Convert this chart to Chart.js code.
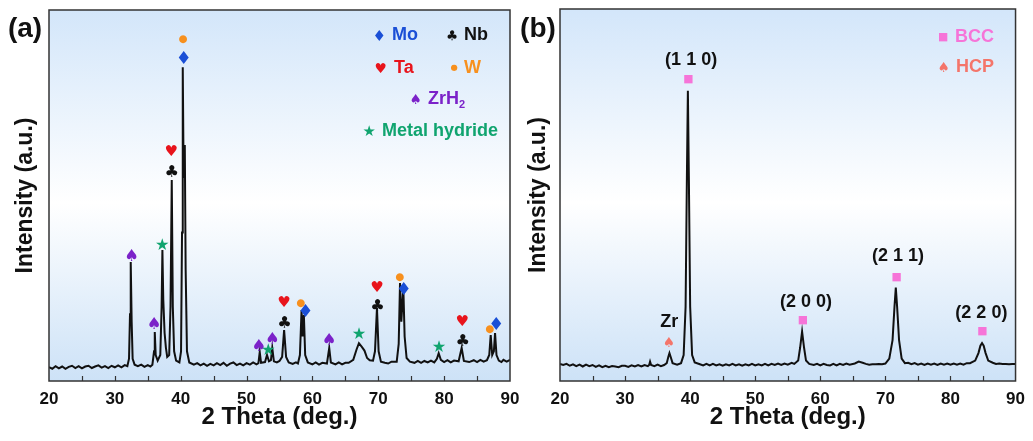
<!DOCTYPE html>
<html>
<head>
<meta charset="utf-8">
<script src="https://cdn.jsdelivr.net/npm/chart.js@4.4.1/dist/chart.umd.min.js"></script>
<style>
html, body { margin: 0; padding: 0; background: #fff; }
body { width: 1033px; height: 441px; position: relative; overflow: hidden; }
#chartA { position: absolute; left: 0; top: 0; }
#chartB { position: absolute; left: 513px; top: 0; }
</style>
</head>
<body>
<canvas id="chartA" width="530" height="441"></canvas>
<canvas id="chartB" width="520" height="441"></canvas>
<script>
/* ------------------------------------------------------------
   Data (intensity in arbitrary units 0-100)
------------------------------------------------------------ */
const thetaA = [20, 20.5, 21, 21.5, 22, 22.5, 23, 23.5, 24, 24.5, 25, 25.5, 26, 26.5, 27, 27.5, 28, 28.5, 29, 29.5, 30, 30.5, 31, 31.5,
    31.9, 32.15, 32.3, 32.41, 32.55, 32.7, 33.0, 33.5, 34, 34.5, 35, 35.4, 35.7, 35.95, 36.06, 36.2, 36.5, 36.9, 37.1, 37.22, 37.35, 37.55, 37.75, 37.95,
    38.25, 38.45, 38.64, 38.8, 39.0, 39.3, 39.8, 40.05, 40.2, 40.31, 40.42, 40.5, 40.62, 40.75, 40.95, 41.3, 42, 42.5, 43, 43.5, 44, 44.5, 45, 45.5,
    46, 46.5, 47, 47.5, 48, 48.5, 49, 49.5, 50, 50.5, 51, 51.5, 51.8, 52.0, 52.2, 52.8, 53.1, 53.4, 53.7, 53.9, 54.15, 54.6, 55.0, 55.4, 55.7, 56.0,
    56.4, 57, 57.5, 57.8, 58.1, 58.35, 58.5, 58.7, 58.9, 59.3, 60, 60.5, 61, 61.5, 62.2, 62.55, 62.8, 63.5, 64, 64.5, 65, 65.5, 66.2, 66.7, 67.06,
    67.5, 67.9, 68.3, 68.7, 69.2, 69.5, 69.8, 70.05, 70.4, 71, 71.5, 72, 72.8, 73.1, 73.3, 73.5, 73.8, 74.0, 74.3, 74.8, 75.5, 76, 76.5, 77, 77.5,
    78, 78.5, 78.9, 79.17, 79.5, 80, 80.5, 81, 81.5, 82.2, 82.66, 83.0, 83.8, 84.5, 85, 85.5, 86, 86.5, 86.85, 87.07, 87.3, 87.55, 87.73, 87.95,
    88.3, 88.7, 89, 89.5, 90];
const intensityA = [3.7, 3.3, 4.0, 3.4, 3.9, 3.3, 3.8, 4.1, 3.5, 4.0, 3.4, 3.9, 4.1, 3.5, 3.9, 4.2, 3.6, 4.0, 3.5, 4.1, 3.7, 4.2, 3.7, 4.3,
    4.0, 6.0, 18, 32.1, 16, 6.0, 4.4, 4.0, 4.4, 3.8, 4.3, 3.9, 4.4, 8.0, 13.2, 7.0, 5.5, 7.0, 20, 35.3, 22, 13, 9.0, 6.5,
    7.0, 20, 54.2, 20, 8.0, 5.5, 5.0, 8.0, 40, 84.6, 60, 55, 63.6, 30, 8.0, 5.0, 4.4, 4.8, 4.2, 4.7, 4.1, 4.6, 4.2, 4.8,
    4.3, 4.9, 4.1, 4.7, 5.0, 4.3, 4.7, 4.2, 4.8, 4.4, 5.0, 4.5, 4.8, 7.8, 4.9, 5.1, 7.0, 5.3, 5.6, 8.9, 5.3, 5.0, 5.4, 6.5, 13.7, 6.5,
    5.0, 4.6, 5.0, 4.7, 7.0, 19.1, 12, 17.8, 7.0, 5.0, 4.5, 5.0, 4.4, 4.9, 4.7, 8.9, 5.0, 4.5, 5.0, 4.5, 4.9, 4.9, 5.7, 8.5, 10.2,
    9.2, 8.2, 6.2, 5.6, 5.5, 8.0, 19.7, 8.0, 5.2, 4.9, 4.7, 5.2, 5.2, 10, 26.4, 16, 25.3, 12, 6.2, 5.2, 4.9, 5.4, 4.9, 5.4, 5.0,
    5.5, 5.0, 6.0, 7.5, 5.7, 5.1, 5.6, 5.0, 5.5, 5.3, 8.9, 5.4, 5.1, 5.6, 5.1, 5.7, 5.2, 5.6, 7.0, 12.4, 7.0, 8.0, 12.9, 7.0,
    5.5, 5.1, 5.7, 5.2, 5.7];

const thetaB = [20, 20.5, 21, 21.5, 22, 22.5, 23, 23.5, 24, 24.5, 25, 25.5, 26, 26.5, 27, 27.5, 28, 28.5, 29, 29.5, 30, 30.5, 31, 31.5, 32, 32.5,
    33, 33.5, 33.7, 33.84, 34.0, 34.5, 35, 35.5, 36, 36.4, 36.65, 36.82, 37.0, 37.3, 38, 38.6, 39.0, 39.3, 39.5, 39.65, 39.8, 40.0, 40.3, 40.7,
    41.5, 42, 42.5, 43, 43.5, 44, 44.5, 45, 45.5, 46, 46.5, 47, 47.5, 48, 48.5, 49, 49.5, 50, 50.5, 51, 51.5, 52, 52.5, 53, 53.5, 54, 54.5, 55,
    55.6, 56, 56.6, 56.9, 57.2, 57.5, 57.8, 58.3, 59, 59.5, 60, 60.5, 61, 61.5, 62, 62.5, 63, 63.5, 64, 64.5, 65.3, 65.9, 66.5, 67, 67.5, 68, 68.5,
    69, 69.5, 70, 70.6, 71.1, 71.4, 71.6, 71.8, 72.1, 72.5, 73, 73.5, 74, 74.5, 75, 75.5, 76, 76.5, 77, 77.5, 78, 78.5, 79, 79.5, 80, 80.5, 81,
    81.5, 82, 82.5, 83, 83.8, 84.3, 84.6, 84.85, 85.1, 85.4, 85.8, 86.5, 87, 87.5, 88, 88.5, 89, 89.5, 90];
const intensityB = [4.6, 4.3, 4.6, 4.1, 4.5, 4.0, 4.4, 3.9, 4.4, 4.0, 4.3, 3.8, 4.2, 3.7, 4.1, 3.7, 4.0, 3.9, 3.7, 4.1, 4.1, 3.8, 4.2, 3.9, 4.3, 3.9,
    4.3, 4.0, 4.3, 5.2, 4.3, 4.0, 4.4, 4.0, 4.3, 4.8, 6.5, 7.5, 6.5, 4.8, 4.4, 4.8, 7.0, 20, 55, 78, 55, 20, 7.0, 5.0,
    4.5, 4.2, 4.6, 4.2, 4.6, 4.2, 4.5, 4.1, 4.5, 4.2, 4.6, 4.2, 4.5, 4.1, 4.5, 4.2, 4.6, 4.2, 4.5, 4.2, 4.6, 4.2, 4.6, 4.3, 4.7, 4.3, 4.7, 4.4,
    4.9, 4.6, 5.5, 9.0, 13.3, 9.0, 5.5, 4.6, 4.3, 4.6, 4.2, 4.6, 4.3, 4.2, 4.6, 4.2, 4.6, 4.3, 4.7, 4.4, 4.7, 5.2, 4.9, 4.6, 4.4, 4.5, 4.5,
    4.6, 4.5, 4.7, 6.0, 11, 20, 25.1, 20, 11, 6.0, 4.8, 4.9, 4.5, 4.8, 4.4, 4.7, 4.3, 4.7, 4.4, 4.7, 4.3, 4.7, 4.4, 4.7, 4.4, 4.7, 4.4,
    4.7, 4.4, 4.8, 4.8, 5.5, 7.5, 9.5, 10.2, 9.5, 7.5, 5.5, 4.9, 4.6, 4.7, 4.6, 4.6, 4.5, 4.6, 4.6];

// phase markers of pattern (a)
const moTheta = [40.4, 58.86, 73.8, 87.83];
const moHeight = [87.2, 18.9, 24.8, 15.6];
const nbTheta = [38.59, 55.71, 69.85, 82.77];
const nbHeight = [56.6, 15.9, 20.5, 11.1];
const taTheta = [38.59, 55.71, 69.85, 82.77];
const taHeight = [62.1, 21.3, 25.6, 16.4];
const wTheta = [40.4, 58.25, 73.29, 86.97];
const wHeight = [92.1, 21.0, 28.0, 14.0];
const zrh2Theta = [32.56, 36.0, 51.9, 53.94, 62.55];
const zrh2Height = [34.0, 15.6, 9.7, 11.6, 11.3];
const hydrideTheta = [37.22, 53.33, 67.11, 79.27];
const hydrideHeight = [36.7, 8.6, 12.7, 9.4];

// phase markers and reflections of pattern (b)
const bccTheta = [39.7, 57.3, 71.7, 84.9];
const bccHeight = [81.1, 16.2, 27.8, 13.2];
const hklLabels = ["(1 1 0)", "(2 0 0)", "(2 1 1)", "(2 2 0)"];
const hklTheta = [40.15, 57.8, 71.95, 84.75];
const hklHeight = [86.3, 21.3, 33.7, 18.3];
const hcpTheta = [36.8];
const hcpHeight = [10.6];
const zrLabelHeight = [15.9];

const xTicks = [20, 30, 40, 50, 60, 70, 80, 90];

/* ------------------------------------------------------------
   Helpers
------------------------------------------------------------ */
const BOLD = '"Liberation Sans", Arial, sans-serif';
const SYM = '"DejaVu Sans", sans-serif';

function toPoints(xs, ys) {
    return xs.map((x, i) => ({ x: x, y: ys[i] }));
}

// draw a symbol glyph so that its ink is centred on (x, y) with given ink height
function drawGlyph(ctx, glyph, x, y, inkH, color) {
    ctx.font = '100px ' + SYM;
    let m = ctx.measureText(glyph);
    const h100 = m.actualBoundingBoxAscent + m.actualBoundingBoxDescent;
    const size = 100 * inkH / h100;
    ctx.font = size + 'px ' + SYM;
    ctx.textAlign = 'left';
    ctx.textBaseline = 'alphabetic';
    m = ctx.measureText(glyph);
    const dx = x - (m.actualBoundingBoxRight - m.actualBoundingBoxLeft) / 2;
    const dy = y + (m.actualBoundingBoxAscent - m.actualBoundingBoxDescent) / 2;
    ctx.fillStyle = color;
    ctx.fillText(glyph, dx, dy);
}

function drawLabel(ctx, text, x, y, size, color, align) {
    ctx.font = 'bold ' + size + 'px ' + BOLD;
    ctx.textAlign = align || 'center';
    ctx.textBaseline = 'middle';
    ctx.fillStyle = color;
    ctx.fillText(text, x, y);
}

/* ------------------------------------------------------------
   Plugin: gradient background, frame, inward ticks, markers, legend
------------------------------------------------------------ */
const xrdDecor = {
    id: 'xrdDecor',
    beforeDatasetsDraw(chart) {
        const { ctx, chartArea: a } = chart;
        const g = ctx.createLinearGradient(0, a.top, 0, a.bottom);
        g.addColorStop(0, '#d3e6fa');
        g.addColorStop(0.52, '#ffffff');
        g.addColorStop(1, '#cde2f7');
        ctx.save();
        ctx.fillStyle = g;
        ctx.fillRect(a.left, a.top, a.right - a.left, a.bottom - a.top);
        ctx.restore();
    },
    afterDatasetsDraw(chart, args, opts) {
        const { ctx, chartArea: a, scales: { x, y } } = chart;
        ctx.save();
        // frame
        ctx.strokeStyle = '#333';
        ctx.lineWidth = 1.5;
        ctx.strokeRect(a.left, a.top, a.right - a.left, a.bottom - a.top);
        // inward ticks every 5 degrees
        ctx.lineWidth = 1.2;
        for (let v = 25; v < 90; v += 5) {
            const px = Math.round(x.getPixelForValue(v)) + 0.5;
            ctx.beginPath();
            ctx.moveTo(px, a.bottom);
            ctx.lineTo(px, a.bottom - 5);
            ctx.stroke();
        }
        // phase markers
        (opts.markers || []).forEach(mk => {
            mk.xs.forEach((t, i) => {
                drawGlyph(ctx, mk.glyph, x.getPixelForValue(t), y.getPixelForValue(mk.ys[i]), mk.size, mk.color);
            });
        });
        // text labels at data positions
        (opts.labels || []).forEach(lb => {
            lb.texts.forEach((txt, i) => {
                drawLabel(ctx, txt, x.getPixelForValue(lb.xs[i]), y.getPixelForValue(lb.ys[i]), 18, '#111');
            });
        });
        // legend
        (opts.legend || []).forEach(lg => {
            drawGlyph(ctx, lg.glyph, lg.gx, lg.gy, lg.size, lg.color);
            drawLabel(ctx, lg.text, lg.tx, lg.gy, 18, lg.color, 'left');
            if (lg.sub) {
                ctx.font = 'bold 18px ' + BOLD;
                const w = ctx.measureText(lg.text).width;
                drawLabel(ctx, lg.sub, lg.tx + w, lg.gy + 6, 11, lg.color, 'left');
            }
        });
        // panel tag
        drawLabel(ctx, opts.panel, 25, 29, 28, '#111');
        ctx.restore();
    }
};

function makeChart(id, xs, ys, axisW, pad, decor) {
    return new Chart(document.getElementById(id), {
        type: 'line',
        data: {
            datasets: [{
                data: toPoints(xs, ys),
                borderColor: '#111',
                borderWidth: 2,
                pointRadius: 0,
                tension: 0
            }]
        },
        options: {
            responsive: false,
            animation: false,
            layout: { padding: pad },
            plugins: {
                legend: { display: false },
                tooltip: { enabled: false },
                xrdDecor: decor
            },
            scales: {
                x: {
                    type: 'linear',
                    min: 20,
                    max: 90,
                    afterBuildTicks: axis => { axis.ticks = xTicks.map(v => ({ value: v })); },
                    afterFit: axis => { axis.height = 60; },
                    grid: { display: false, drawTicks: false },
                    border: { display: false },
                    ticks: { color: '#111', padding: 8, font: { family: BOLD, size: 17, weight: 'bold' } },
                    title: {
                        display: true,
                        text: '2 Theta (deg.)',
                        color: '#111',
                        padding: { top: 0, bottom: 9 },
                        font: { family: BOLD, size: 24, weight: 'bold' }
                    }
                },
                y: {
                    min: 0,
                    max: 100,
                    afterFit: axis => { axis.width = axisW; },
                    grid: { display: false, drawTicks: false },
                    border: { display: false },
                    ticks: { display: false },
                    title: {
                        display: true,
                        text: 'Intensity (a.u.)',
                        color: '#111',
                        padding: { top: 12, bottom: 0 },
                        font: { family: BOLD, size: 23, weight: 'bold' }
                    }
                }
            }
        },
        plugins: [xrdDecor]
    });
}

/* ------------------------------------------------------------
   Build both panels
------------------------------------------------------------ */
makeChart('chartA', thetaA, intensityA, 49, { top: 10, right: 20, bottom: 0, left: 0 }, {
    panel: '(a)',
    markers: [
        { glyph: '\u2666', color: '#1a4fd6', size: 13, xs: moTheta, ys: moHeight },
        { glyph: '\u2663', color: '#111111', size: 12, xs: nbTheta, ys: nbHeight },
        { glyph: '\u2665', color: '#e8141c', size: 11, xs: taTheta, ys: taHeight },
        { glyph: '\u25CF', color: '#f7901e', size: 8, xs: wTheta, ys: wHeight },
        { glyph: '\u2660', color: '#7b22c9', size: 12, xs: zrh2Theta, ys: zrh2Height },
        { glyph: '\u2605', color: '#10a46f', size: 12, xs: hydrideTheta, ys: hydrideHeight }
    ],
    legend: [
        { glyph: '\u2666', color: '#1a4fd6', size: 11, gx: 379, gy: 35, text: 'Mo', tx: 392 },
        { glyph: '\u2663', color: '#111111', size: 10, gx: 452, gy: 35, text: 'Nb', tx: 464 },
        { glyph: '\u2665', color: '#e8141c', size: 10, gx: 381, gy: 68, text: 'Ta', tx: 394 },
        { glyph: '\u25CF', color: '#f7901e', size: 6.5, gx: 454, gy: 68, text: 'W', tx: 464 },
        { glyph: '\u2660', color: '#7b22c9', size: 10, gx: 416, gy: 99, text: 'ZrH', sub: '2', tx: 428 },
        { glyph: '\u2605', color: '#10a46f', size: 11, gx: 369, gy: 131, text: 'Metal hydride', tx: 382 }
    ]
});

makeChart('chartB', thetaB, intensityB, 47, { top: 9, right: 11, bottom: 0, left: 0 }, {
    panel: '(b)',
    markers: [
        { glyph: '\u25A0', color: '#f674d8', size: 8.5, xs: bccTheta, ys: bccHeight },
        { glyph: '\u2660', color: '#f4756a', size: 10, xs: hcpTheta, ys: hcpHeight }
    ],
    labels: [
        { texts: hklLabels, xs: hklTheta, ys: hklHeight },
        { texts: ['Zr'], xs: hcpTheta, ys: zrLabelHeight }
    ],
    legend: [
        { glyph: '\u25A0', color: '#f674d8', size: 8.5, gx: 430, gy: 37, text: 'BCC', tx: 442 },
        { glyph: '\u2660', color: '#f4756a', size: 10, gx: 431, gy: 67, text: 'HCP', tx: 443 }
    ]
});
</script>
</body>
</html>
